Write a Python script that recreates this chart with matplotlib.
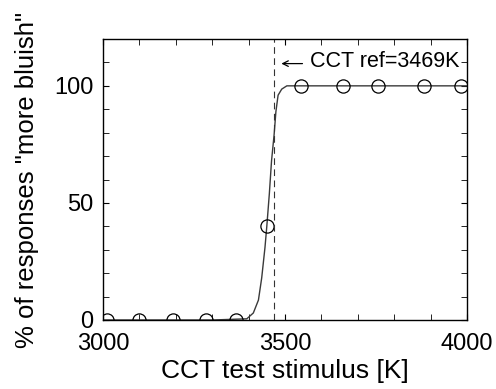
import numpy as np
import matplotlib
matplotlib.use('Agg')
import matplotlib.pyplot as plt

plt.rcParams['font.family'] = ['Liberation Sans', 'DejaVu Sans']

# measured responses
cct_test = [3010, 3100, 3192, 3282, 3364, 3450, 3544, 3660, 3756, 3883, 3983]
pct_bluish = [0, 0, 0, 0, 0, 40, 100, 100, 100, 100, 100]

# fitted curve
fit_x = [3000, 3300, 3395, 3413, 3427, 3436, 3445, 3450, 3457, 3463, 3470,
         3475, 3481, 3491, 3505, 4000]
fit_y = [0, 0, 0.5, 3, 8.5, 18, 31, 40, 54, 68, 79, 89, 96, 98.6, 100, 100]

cct_ref = 3469

fig = plt.figure(figsize=(4.96, 3.89), dpi=100)
ax = fig.add_axes([0.2077, 0.1774, 0.7338, 0.7223])

ax.plot(fit_x, fit_y, color='#3a3a3a', lw=1.0)
ax.plot(cct_test, pct_bluish, 'o', mfc='none', mec='black', ms=9.5, mew=0.9)
ax.axvline(cct_ref, color='#333333', lw=0.8, ls=(0, (6, 4)))
# arrow drawn as a line so it can be as long as in the figure
ax.annotate('', xy=(3490, 109.5), xytext=(3548, 109.5),
            arrowprops=dict(arrowstyle='->', lw=0.9, color='black', shrinkA=0, shrinkB=0))
ax.text(3570, 110.5, 'CCT ref=%dK' % cct_ref, fontsize=15.5, va='center', ha='left')

ax.set_xlim(3000, 4000)
ax.set_ylim(0, 120)
ax.set_xticks([3000, 3500, 4000])
ax.set_yticks([0, 50, 100])
ax.set_xticks(np.arange(3000, 4001, 100), minor=True)
ax.set_yticks(np.arange(0, 121, 10), minor=True)
ax.tick_params(which='both', direction='in', top=True, right=True, labelsize=17)
ax.tick_params(axis='x', which='major', pad=9.5)
ax.tick_params(axis='y', which='major', pad=7)
ax.tick_params(which='both', length=4)
for s in ax.spines.values():
    s.set_linewidth(1.0)

ax.set_xlabel('CCT test stimulus [K]', fontsize=19, labelpad=3)
ax.set_ylabel('% of responses "more bluish"', fontsize=18.5)
ax.yaxis.set_label_coords(-0.175, 0.5)

fig.savefig('out.png', dpi=100)
